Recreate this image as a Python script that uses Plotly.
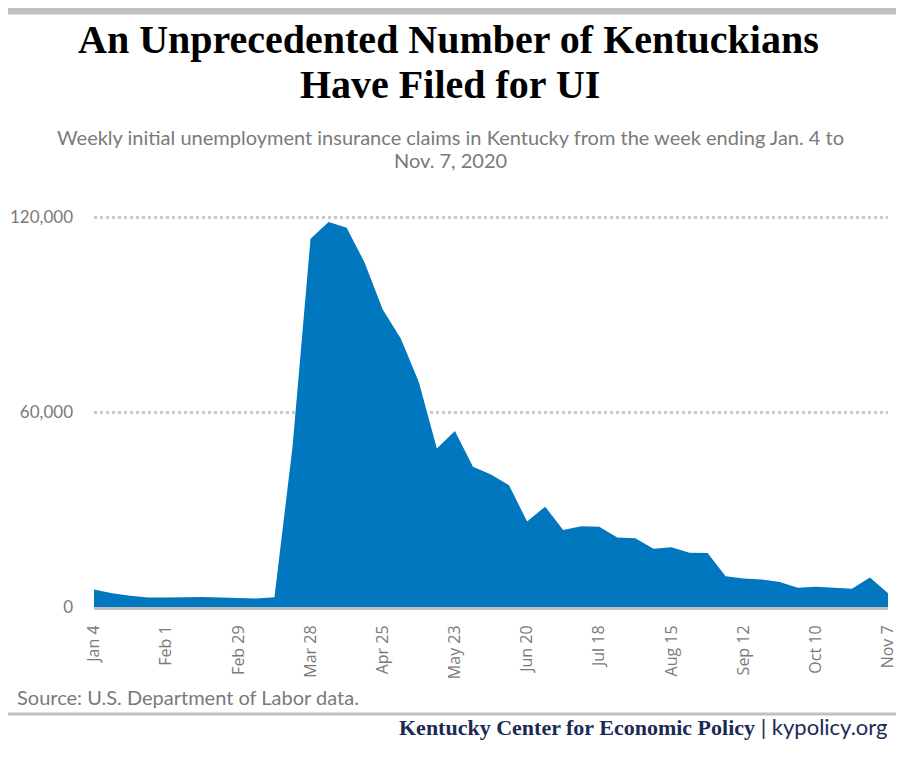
import plotly.graph_objects as go

week_ending = [
    "2020-01-04", "2020-01-11", "2020-01-18", "2020-01-25", "2020-02-01",
    "2020-02-08", "2020-02-15", "2020-02-22", "2020-02-29", "2020-03-07",
    "2020-03-14", "2020-03-21", "2020-03-28", "2020-04-04", "2020-04-11",
    "2020-04-18", "2020-04-25", "2020-05-02", "2020-05-09", "2020-05-16",
    "2020-05-23", "2020-05-30", "2020-06-06", "2020-06-13", "2020-06-20",
    "2020-06-27", "2020-07-04", "2020-07-11", "2020-07-18", "2020-07-25",
    "2020-08-01", "2020-08-08", "2020-08-15", "2020-08-22", "2020-08-29",
    "2020-09-05", "2020-09-12", "2020-09-19", "2020-09-26", "2020-10-03",
    "2020-10-10", "2020-10-17", "2020-10-24", "2020-10-31", "2020-11-07",
]

claims = [
    5400, 4200, 3500, 2900, 2900, 3100, 3100, 2900, 2700, 2600,
    3000, 49300, 113400, 118500, 116800, 106000, 91600, 82700, 69300, 48800,
    54200, 43200, 40800, 37500, 26300, 30900, 23700, 24900, 24700, 21400,
    21200, 17900, 18400, 16700, 16600, 9500, 8800, 8500, 7700, 5900,
    6200, 5800, 5600, 9100, 4200,
]

tick_dates = ["2020-01-04", "2020-02-01", "2020-02-29", "2020-03-28", "2020-04-25",
              "2020-05-23", "2020-06-20", "2020-07-18", "2020-08-15", "2020-09-12",
              "2020-10-10", "2020-11-07"]
tick_labels = ["Jan 4", "Feb 1", "Feb 29", "Mar 28", "Apr 25", "May 23", "Jun 20",
               "Jul 18", "Aug 15", "Sep 12", "Oct 10", "Nov 7"]
y_ticks = [0, 60000, 120000]

title_1 = "An Unprecedented Number of Kentuckians"
title_2 = "Have Filed for UI"
subtitle_1 = "Weekly initial unemployment insurance claims in Kentucky from the week ending Jan. 4 to"
subtitle_2 = "Nov. 7, 2020"
source = "Source: U.S. Department of Labor data."
org = "Kentucky Center for Economic Policy"
site = "kypolicy.org"

# page body has an 8px margin; figure is laid out in window pixel coordinates
OFF = 8
WIN_W, WIN_H = 904, 759
W, H = WIN_W - OFF, WIN_H - OFF
Y_MAX = 121000
L, R, B = 94, 888, 607              # window px of plot left / right / zero line
PX_PER_UNIT = (607 - 217) / 120000.0
T = B - Y_MAX * PX_PER_UNIT


def px(x):
    return (x - L) / (R - L)


def py(y):
    return (B - y) / (B - T)


fig = go.Figure()
fig.add_trace(go.Scatter(
    x=week_ending, y=claims, mode="lines", fill="tozeroy",
    line=dict(color="#0077be", width=0), fillcolor="#0077be",
    hoverinfo="x+y", showlegend=False,
))

gray = "#7a7a7a"
fig.update_layout(
    width=W, height=H,
    margin=dict(l=L - OFF, r=WIN_W - R, t=T - OFF, b=WIN_H - B, pad=0),
    paper_bgcolor="white", plot_bgcolor="white",
    xaxis=dict(
        type="date", range=[week_ending[0], week_ending[-1]],
        tickvals=tick_dates, ticktext=tick_labels, tickangle=-90,
        tickfont=dict(family="Open Sans", size=16, color=gray),
        showgrid=False, zeroline=False, showline=True, automargin=False,
        linecolor="#c0c0c0", linewidth=3, ticks="", ticklabelstandoff=9,
    ),
    yaxis=dict(
        range=[0, Y_MAX], tickvals=y_ticks, tickformat=",",
        tickfont=dict(family="Lato", size=17, color=gray),
        showgrid=True, gridcolor="#cacaca", gridwidth=2.5, griddash="dot",
        zeroline=False, showline=False, ticks="", ticklabelstandoff=20,
        automargin=False,
    ),
    shapes=[
        dict(type="rect", xref="paper", yref="paper", x0=px(0), x1=px(WIN_W),
             y0=py(14), y1=py(-10), fillcolor="#c0c0c0", line=dict(width=0)),
        dict(type="line", xref="paper", yref="paper", x0=px(0), x1=px(WIN_W),
             y0=py(714), y1=py(714), line=dict(color="#c0c0c0", width=3)),
    ],
    annotations=[
        dict(text="<b>" + title_1 + "</b>", x=px(448), y=py(39), xref="paper", yref="paper",
             showarrow=False, xanchor="center", yanchor="middle",
             font=dict(family="Liberation Serif", size=40, color="black")),
        dict(text="<b>" + title_2 + "</b>", x=px(450), y=py(84), xref="paper", yref="paper",
             showarrow=False, xanchor="center", yanchor="middle",
             font=dict(family="Liberation Serif", size=40, color="black")),
        dict(text=subtitle_1, x=px(450), y=py(137), xref="paper", yref="paper",
             showarrow=False, xanchor="center", yanchor="middle",
             font=dict(family="Lato", size=20, color=gray)),
        dict(text=subtitle_2, x=px(450), y=py(160), xref="paper", yref="paper",
             showarrow=False, xanchor="center", yanchor="middle",
             font=dict(family="Lato", size=20, color=gray)),
        dict(text=source, x=px(15), y=py(697), xref="paper", yref="paper",
             showarrow=False, xanchor="left", yanchor="middle",
             font=dict(family="Lato", size=20, color=gray)),
        dict(text="<b>" + org + "</b><span style=\"font-family:Lato;font-weight:normal\"> | " + site + "</span>",
             x=px(890), y=py(727), xref="paper", yref="paper",
             showarrow=False, xanchor="right", yanchor="middle",
             font=dict(family="Liberation Serif", size=22, color="#1b2a55")),
    ],
)

fig.write_html("out.html")
